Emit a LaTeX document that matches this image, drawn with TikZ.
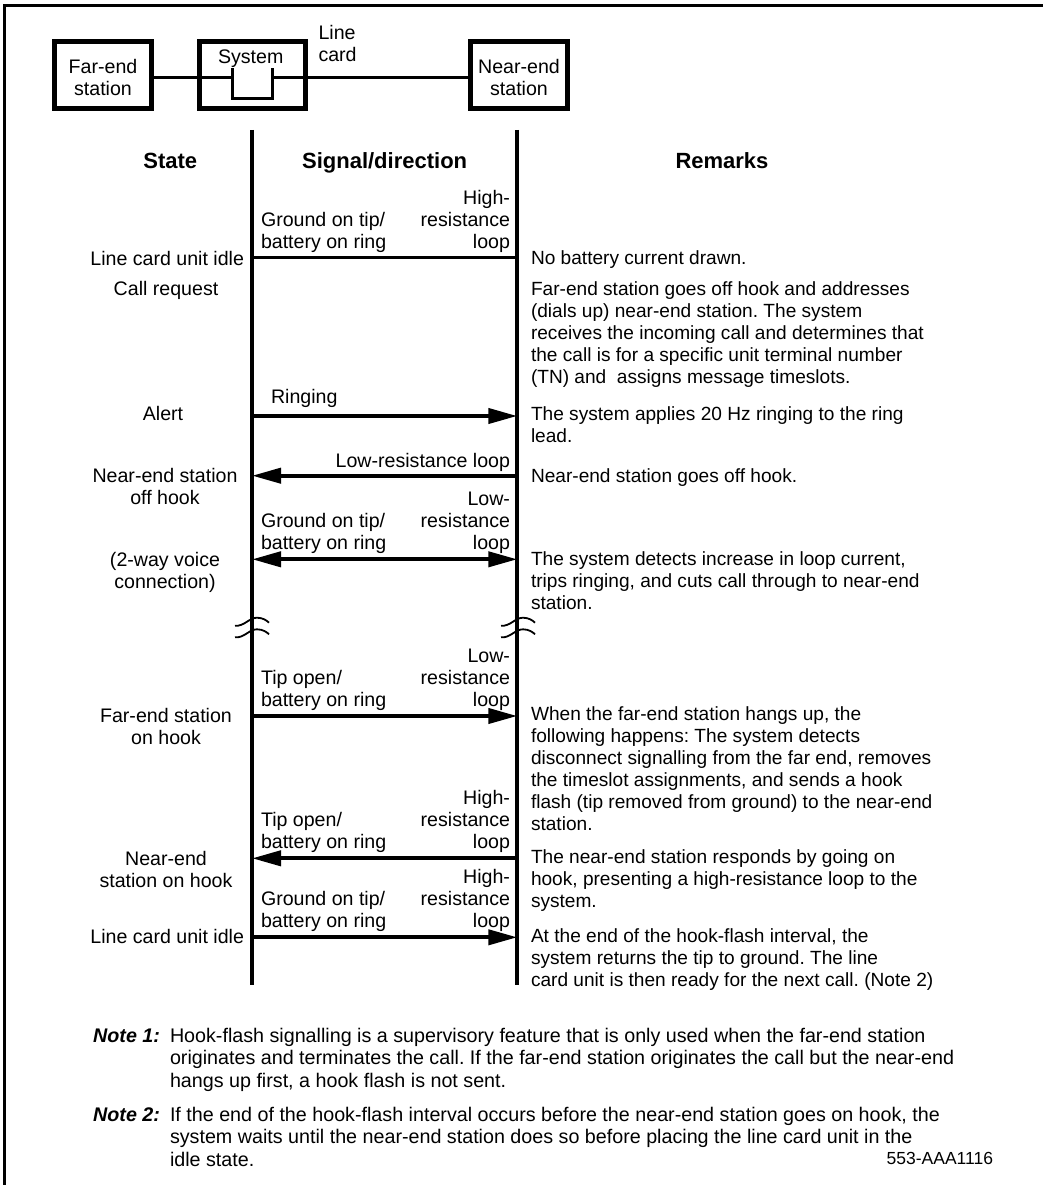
\documentclass[tikz,border=0pt]{standalone}
\usepackage{fontspec}
\setmainfont{Liberation Sans}
\usetikzlibrary{arrows.meta}
\frenchspacing
\newcommand\bodyf{\fontsize{19.6}{22}\selectfont}
\newcommand\remf{\fontsize{19.1}{22}\selectfont}
\newcommand\notef{\fontsize{19.7}{22.5}\selectfont}
\newcommand\headf{\fontsize{22}{26}\selectfont\bfseries}
\newcommand\fs{\rule{0pt}{15pt}}
\begin{document}
\frenchspacing
\begin{tikzpicture}[x=1pt,y=-1pt,
  every node/.style={inner sep=0pt,outer sep=0pt,font=\bodyf},
  box/.style={draw,line width=5pt,minimum height=67.5pt},
  thinline/.style={line width=2.5pt},
  vline/.style={line width=4pt},
  sig/.style={line width=4pt,-{Triangle[length=29pt,width=15pt]}},
  sigboth/.style={line width=4pt,{Triangle[length=29pt,width=15pt]}-{Triangle[length=29pt,width=15pt]}},
  brk/.style={line width=1.8pt},
  rem/.style={anchor=north west,align=left,font=\remf},
  remone/.style={anchor=base west,font=\remf},
  lleft/.style={anchor=north west,align=left},
  lright/.style={anchor=north east,align=right},
  stc/.style={anchor=north,align=center},
  head/.style={anchor=base,font=\headf}]
\useasboundingbox (0,0) rectangle (1043,1185);
% frame
\draw[line width=3pt] (4.7,1185) -- (4.7,6) -- (1043,6);
% top diagram
\node[box,minimum width=97pt] (farend) at (103,74.9) {};
\node[box,minimum width=106pt] (system) at (252.5,74.9) {};
\node[box,minimum width=97pt] (nearend) at (519,74.9) {};
\node[stc] (farendt) at (103,58.2) {\fs Far-end\\station};
\node[anchor=base] (systemt) at (250.7,63.2) {System};
\node[stc] (nearendt) at (519,58.2) {\fs Near-end\\station};
\node[lleft] (linecard) at (318.5,25) {\fs Line\\card};
\coordinate (j1) at (232.3,77.3);
\coordinate (j2) at (272.5,77.3);
\coordinate (u1) at (232.3,68.3);
\coordinate (u2) at (232.3,98.3);
\coordinate (u3) at (272.5,98.3);
\coordinate (u4) at (272.5,68.3);
\draw[thinline] (farend.east |- j1) -- (j1);
\draw[thinline] (u1) -- (u2) -- (u3) -- (u4);
\draw[thinline] (j2) -- (nearend.west |- j2);
% headers
\node[head] (hstate) at (170.3,169) {State};
\node[head] (hsig) at (384.6,169) {Signal/direction};
\node[head] (hrem) at (722,169) {Remarks};
% vertical lines
\coordinate (lt) at (252,130);
\coordinate (lb) at (252,985);
\coordinate (rt) at (517.3,130);
\coordinate (rb) at (517.3,985);
% signal endpoints
\foreach \n/\y in {1/257.7,2/416,3/475.7,4/559.3,5/716,6/858.3,7/937.3}{
  \coordinate (a\n l) at (252,\y);
  \coordinate (a\n r) at (517.3,\y);
}
\draw[thinline] (a1l) -- (a1r);
\draw[sig] (a2l) -- (a2r);
\draw[sig] (a3r) -- (a3l);
\draw[sigboth] (a4l) -- (a4r);
\draw[sig] (a5l) -- (a5r);
\draw[sig] (a6r) -- (a6l);
\draw[sig] (a7l) -- (a7r);
\draw[vline] (lt) -- (lb);
\draw[vline] (rt) -- (rb);
% break marks
\foreach \cx in {252,518}{
  \foreach \cy in {621.7,633.3}{
    \draw[brk] (\cx-17,\cy+4) .. controls (\cx-8,\cy+5) and (\cx-3,\cy-4) .. (\cx+5,\cy-4)
      .. controls (\cx+11,\cy-4) and (\cx+15,\cy-1) .. (\cx+17,\cy+1);
  }
}
% signal labels
\node[lleft] (g1) at (261,211.1) {\fs Ground on tip/\\battery on ring};
\node[lright] (h1) at (510,189.1) {\fs High-\\resistance\\loop};
\node[anchor=base west] (ring) at (271,403.7) {Ringing};
\node[anchor=base east] (lowl) at (510,467) {Low-resistance loop};
\node[lleft] (g4) at (261,512.7) {\fs Ground on tip/\\battery on ring};
\node[lright] (h4) at (510,490.7) {\fs Low-\\resistance\\loop};
\node[lleft] (g5) at (261,669.4) {\fs Tip open/\\battery on ring};
\node[lright] (h5) at (510,647.4) {\fs Low-\\resistance\\loop};
\node[lleft] (g6) at (261,811.7) {\fs Tip open/\\battery on ring};
\node[lright] (h6) at (510,789.7) {\fs High-\\resistance\\loop};
\node[lleft] (g7) at (261,890.7) {\fs Ground on tip/\\battery on ring};
\node[lright] (h7) at (510,868.7) {\fs High-\\resistance\\loop};
% state column
\node[anchor=base east] (s1) at (244,265) {Line card unit idle};
\node[anchor=base] (s2) at (166,295.3) {Call request};
\node[anchor=base] (s3) at (163,420.3) {Alert};
\node[stc] (s4) at (165,467.7) {\fs Near-end station\\off hook};
\node[stc] (s5) at (165,551) {\fs (2-way voice\\connection)};
\node[stc] (s6) at (166,707) {\fs Far-end station\\on hook};
\node[stc] (s7) at (166,850) {\fs Near-end\\station on hook};
\node[anchor=base east] (s8) at (244,943) {Line card unit idle};
% remarks
\node[remone] (r1) at (531,264.5) {No battery current drawn.};
\node[rem] (r2) at (531,280.3) {\fs Far-end station goes off hook and addresses\\(dials up) near-end station. The system\\receives the incoming call and determines that\\the call is for a specific unit terminal number\\(TN) and~ assigns message timeslots.};
\node[rem] (r3) at (531,405.3) {\fs The system applies 20 Hz ringing to the ring\\lead.};
\node[remone] (r4) at (531,482) {Near-end station goes off hook.};
\node[rem] (r5) at (531,550) {\fs The system detects increase in loop current,\\trips ringing, and cuts call through to near-end\\station.};
\node[rem] (r6) at (531,705.5) {\fs When the far-end station hangs up, the\\following happens: The system detects\\disconnect signalling from the far end, removes\\the timeslot assignments, and sends a hook\\flash (tip removed from ground) to the near-end\\station.};
\node[rem] (r7) at (531,848.7) {\fs The near-end station responds by going on\\hook, presenting a high-resistance loop to the\\system.};
\node[rem] (r8) at (531,927.7) {\fs At the end of the hook-flash interval, the\\system returns the tip to ground. The line\\card unit is then ready for the next call. (Note 2)};
% notes
\node[anchor=base east,font=\notef\bfseries\itshape] (n1l) at (160,1042) {Note 1:};
\node[rem,font=\notef] (n1) at (170,1027) {\fs Hook-flash signalling is a supervisory feature that is only used when the far-end station\\originates and terminates the call. If the far-end station originates the call but the near-end\\hangs up first, a hook flash is not sent.};
\node[anchor=base east,font=\notef\bfseries\itshape] (n2l) at (160,1121) {Note 2:};
\node[rem,font=\notef] (n2) at (170,1106) {\fs If the end of the hook-flash interval occurs before the near-end station goes on hook, the\\system waits until the near-end station does so before placing the line card unit in the\\idle state.};
\node[anchor=base east,font=\fontsize{17.5}{20}\selectfont] (code) at (993,1164) {553-AAA1116};
\end{tikzpicture}
\end{document}
